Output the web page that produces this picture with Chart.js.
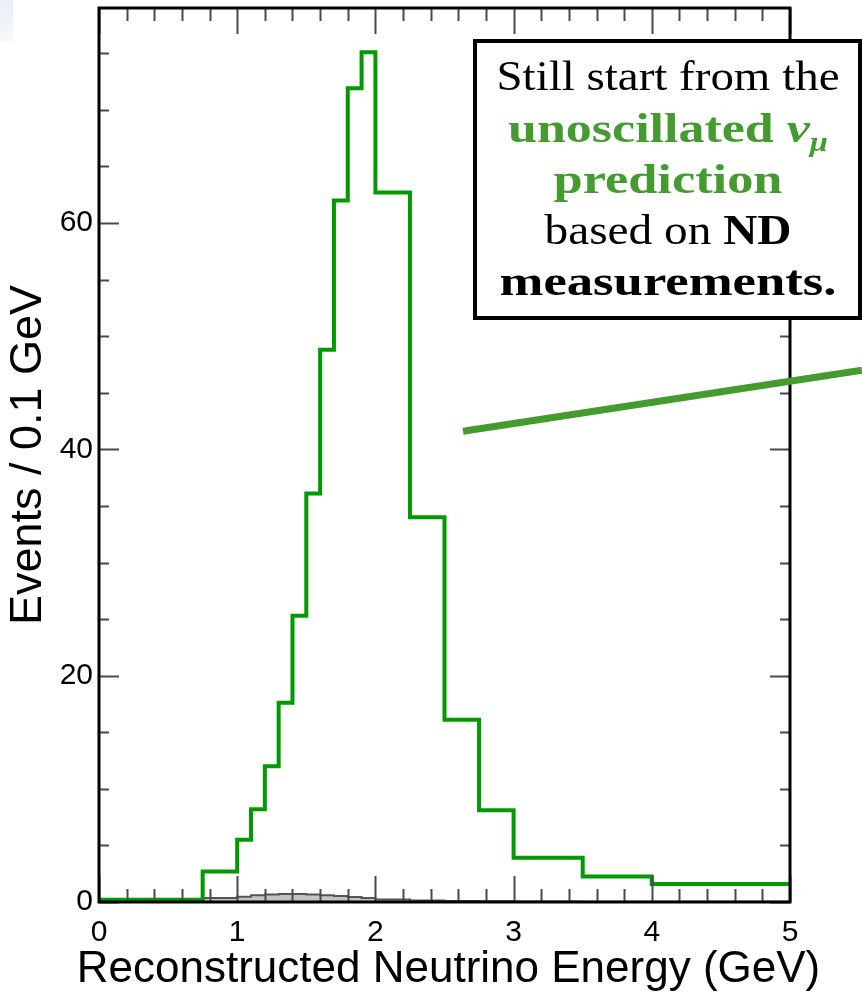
<!DOCTYPE html>
<html>
<head>
<meta charset="utf-8">
<script src="https://cdn.jsdelivr.net/npm/chart.js@4.4.0/dist/chart.umd.min.js"></script>
<style>
  html, body { margin: 0; padding: 0; background: #fff; }
  canvas { display: block; }
</style>
</head>
<body>
<canvas id="spectrum" width="862" height="1005"></canvas>
<script>
// Bin edges (GeV) and contents (events / 0.1 GeV)
const binEdges = [0, 0.75, 1.0, 1.1, 1.2, 1.3, 1.4, 1.5, 1.6, 1.7, 1.8, 1.9, 2.0, 2.25, 2.5, 2.75, 3.0, 3.5, 4.0, 5.0];
const numuPrediction = [0.2, 2.7, 5.5, 8.2, 12.0, 17.6, 25.3, 36.1, 48.8, 62.0, 71.9, 75.1, 62.7, 34.0, 16.1, 8.1, 3.9, 2.25, 1.6];
const background = [0.03, 0.35, 0.47, 0.6, 0.66, 0.7, 0.7, 0.66, 0.6, 0.52, 0.44, 0.35, 0.22, 0.14, 0.09, 0.06, 0.05, 0.03, 0.02];

const xTicks = [0, 1, 2, 3, 4, 5];
const yTicks = [0, 20, 40, 60];
const xMinorStep = 0.2;
const yMinorStep = 5;
const yMax = 79;
const xTitle = 'Reconstructed Neutrino Energy (GeV)';
const yTitle = 'Events / 0.1 GeV';

const GREEN = '#009a00';
const NOTE_GREEN = '#459b30';
const sans = '"Liberation Sans", Arial, sans-serif';

// turn bin contents into step points (last edge repeats last value)
function toSteps(vals) {
  const pts = vals.map((v, i) => ({ x: binEdges[i], y: v }));
  pts.push({ x: binEdges[binEdges.length - 1], y: vals[vals.length - 1] });
  return pts;
}

// text box on the right
const noteLines = [
  [{ t: 'Still start from the' }],
  [{ t: 'unoscillated ', b: true, c: NOTE_GREEN }, { t: 'ν', b: true, i: true, c: NOTE_GREEN }, { t: 'μ', b: true, i: true, c: NOTE_GREEN, sub: true }],
  [{ t: 'prediction', b: true, c: NOTE_GREEN }],
  [{ t: 'based on ' }, { t: 'ND', b: true }],
  [{ t: 'measurements.', b: true }]
];
const noteBaselines = [90, 142, 193, 244, 295];
const noteWidths = [343, 320, 229, 247, 337];

function segFont(s, size) {
  const sz = s.sub ? Math.round(size * 0.62) : size;
  return (s.i ? 'italic ' : '') + (s.b ? 'bold ' : '') + sz + 'px "Liberation Serif", "Times New Roman", serif';
}

const framePlugin = {
  id: 'frame',
  beforeDraw(chart) {
    const ctx = chart.ctx;
    ctx.save();
    ctx.fillStyle = '#fff';
    ctx.fillRect(0, 0, chart.width, chart.height);
    // faint slide background peeking in the corner
    const g = ctx.createLinearGradient(0, 0, 0, 42);
    g.addColorStop(0, '#e9eef6');
    g.addColorStop(1, '#f7f9fc');
    ctx.fillStyle = g;
    ctx.fillRect(0, 0, 13, 42);
    ctx.restore();
  },
  afterDatasetsDraw(chart) {
    const { ctx, chartArea: a, scales: { x, y } } = chart;
    ctx.save();
    ctx.lineCap = 'butt';
    // inward ticks, bottom + top
    ctx.strokeStyle = '#4a4a4a';
    ctx.lineWidth = 2;
    for (let v = 0; v <= 5.0001; v += xMinorStep) {
      const major = Math.abs(v - Math.round(v)) < 1e-6;
      const px = Math.round(x.getPixelForValue(v)) + 0.5;
      const len = major ? 26 : 13;
      ctx.beginPath();
      ctx.moveTo(px, a.bottom); ctx.lineTo(px, a.bottom - len);
      ctx.moveTo(px, a.top); ctx.lineTo(px, a.top + len);
      ctx.stroke();
    }
    // left + right
    for (let v = 0; v <= yMax; v += yMinorStep) {
      const major = v % 20 === 0;
      const py = Math.round(y.getPixelForValue(v)) + 0.5;
      const len = major ? 20 : 10;
      ctx.beginPath();
      ctx.moveTo(a.left, py); ctx.lineTo(a.left + len, py);
      ctx.moveTo(a.right, py); ctx.lineTo(a.right - len, py);
      ctx.stroke();
    }
    // frame
    ctx.strokeStyle = '#000';
    ctx.lineWidth = 3;
    ctx.strokeRect(a.left, a.top, a.right - a.left, a.bottom - a.top);

    // x title drawn here so it is not squeezed to the axis width
    ctx.fillStyle = '#000';
    ctx.font = '44px ' + sans;
    ctx.textAlign = 'center';
    ctx.textBaseline = 'middle';
    ctx.fillText(xTitle, (a.left + a.right) / 2 + 4, 970);
    ctx.restore();
  },
  afterDraw(chart) {
    const { ctx, scales: { x, y } } = chart;
    ctx.save();
    // note box
    ctx.fillStyle = '#fff';
    ctx.fillRect(475, 41, 385, 277);
    ctx.strokeStyle = '#000';
    ctx.lineWidth = 4;
    ctx.strokeRect(475, 41, 385, 277);

    const size = 43;
    const cx = 668;
    ctx.textBaseline = 'alphabetic';
    ctx.textAlign = 'left';
    noteLines.forEach((line, li) => {
      let w = 0;
      line.forEach(s => { ctx.font = segFont(s, size); w += ctx.measureText(s.t).width; });
      const sx = noteWidths[li] / w;
      ctx.save();
      ctx.translate(cx - noteWidths[li] / 2, noteBaselines[li]);
      ctx.scale(sx, 1);
      let px = 0;
      line.forEach(s => {
        ctx.font = segFont(s, size);
        ctx.fillStyle = s.c || '#000';
        ctx.fillText(s.t, px, s.sub ? 9 : 0);
        px += ctx.measureText(s.t).width;
      });
      ctx.restore();
    });

    // pointer line
    ctx.strokeStyle = NOTE_GREEN;
    ctx.lineWidth = 7;
    ctx.beginPath();
    ctx.moveTo(x.getPixelForValue(2.634), y.getPixelForValue(41.6));
    ctx.lineTo(x.getPixelForValue(5.52), y.getPixelForValue(47.0));
    ctx.stroke();
    ctx.restore();
  }
};

new Chart(document.getElementById('spectrum'), {
  type: 'line',
  data: {
    datasets: [
      {
        label: 'Unoscillated prediction',
        data: toSteps(numuPrediction),
        stepped: 'before',
        borderColor: GREEN,
        borderWidth: 4,
        pointRadius: 0,
        fill: false,
        order: 1
      },
      {
        label: 'Background',
        data: toSteps(background),
        stepped: 'before',
        borderColor: '#555',
        borderWidth: 2,
        backgroundColor: '#c4c4c4',
        pointRadius: 0,
        fill: 'origin',
        order: 2
      }
    ]
  },
  options: {
    responsive: false,
    devicePixelRatio: 1,
    animation: false,
    layout: { padding: { top: 8, right: 72, left: 0, bottom: 0 } },
    plugins: { legend: { display: false }, tooltip: { enabled: false } },
    scales: {
      x: {
        type: 'linear',
        min: 0,
        max: 5,
        afterBuildTicks: s => { s.ticks = xTicks.map(v => ({ value: v })); },
        afterFit: s => { s.height = 103; s.paddingLeft = 0; s.paddingRight = 0; },
        grid: { display: false, drawTicks: false },
        border: { display: false },
        ticks: {
          autoSkip: false,
          maxRotation: 0,
          padding: 13,
          color: '#000',
          font: { family: sans, size: 30 }
        },
        title: { display: false }
      },
      y: {
        type: 'linear',
        min: 0,
        max: yMax,
        afterBuildTicks: s => { s.ticks = yTicks.map(v => ({ value: v })); },
        afterFit: s => { s.width = 99; s.paddingTop = 0; s.paddingBottom = 0; },
        grid: { display: false, drawTicks: false },
        border: { display: false },
        ticks: {
          padding: 6,
          color: '#000',
          font: { family: sans, size: 30 }
        },
        title: {
          display: true,
          text: yTitle,
          color: '#000',
          font: { family: sans, size: 45, lineHeight: 1.2 },
          padding: { top: 2, bottom: 0 }
        }
      }
    }
  },
  plugins: [framePlugin]
});
</script>
</body>
</html>
